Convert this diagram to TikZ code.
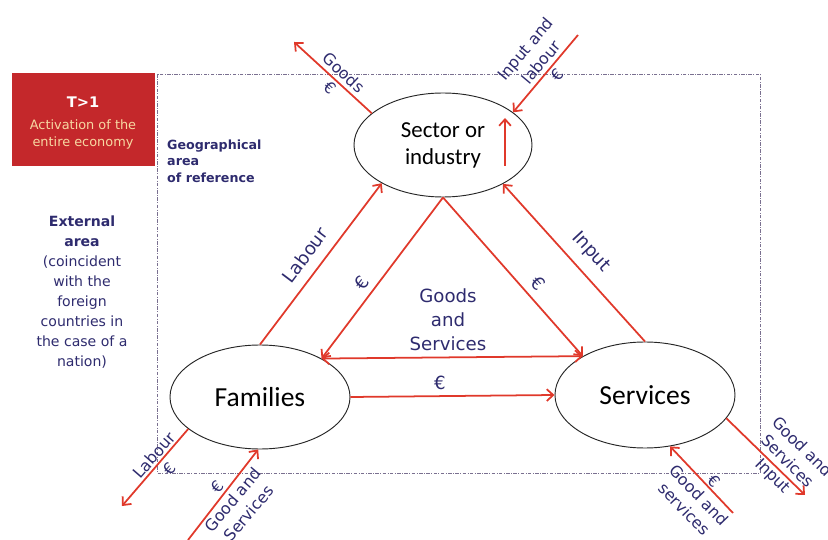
\documentclass[tikz,border=0pt]{standalone}
\usepackage{fontspec}
\setmainfont{Carlito}
\newfontfamily\labfont{DejaVu Sans}
\usetikzlibrary{arrows.meta,shapes.geometric}
\definecolor{navy}{HTML}{2E2B6E}
\definecolor{arrred}{HTML}{E0392B}
\definecolor{boxred}{HTML}{C4282B}
\definecolor{cream}{HTML}{F7D8A2}
\definecolor{framecol}{HTML}{7A7090}
\begin{document}
\begin{tikzpicture}[x=0.03cm,y=-0.03cm,
 tip/.tip={Straight Barb[length=5.5pt,width=10pt]},
 flow/.style={draw=arrred,line width=1.5pt,-tip},
 flowboth/.style={draw=arrred,line width=1.5pt,tip-tip},
 agent/.style={ellipse,draw=black!85,line width=0.8pt,inner sep=0pt,align=center},
 lbl/.style={text=navy,font=\labfont\fontsize{13.6}{17.5}\selectfont,inner sep=0pt,align=center},
 tlbl/.style={text=navy,font=\labfont\fontsize{15.5}{18}\selectfont,inner sep=0pt},
 frameline/.style={draw=framecol,line width=0.6pt,dash pattern=on 3pt off 1.2pt on 0.8pt off 1.2pt},
 redbox/.style={fill=boxred,minimum width=4.29cm,minimum height=2.79cm,inner sep=0pt},
]
\useasboundingbox (0,0) rectangle (828,540);
\draw[frameline] (157,74) rectangle (760,473);

% red box
\node[redbox] (tbox) at (83.5,119.5) {};
\node[font=\labfont\bfseries\fontsize{12.5}{15}\selectfont,text=white,inner sep=0pt] (t1) at (83,102) {T>1};
\node[font=\labfont\fontsize{11}{13}\selectfont,text=cream,inner sep=0pt] (t2) at (83,125) {Activation of the};
\node[font=\labfont\fontsize{11}{13}\selectfont,text=cream,inner sep=0pt] (t3) at (83,143) {entire economy};

% area labels
\node[text=navy,font=\labfont\bfseries\fontsize{10.8}{14}\selectfont,align=left,anchor=west,inner sep=0pt] (geo) at (167,161) {Geographical\\area\\of reference};
\node[text=navy,font=\labfont\fontsize{12}{17}\selectfont,align=center,inner sep=0pt] (ext) at (82,292)
 {\textbf{External}\\\textbf{area}\\(coincident\\with the\\foreign\\countries in\\the case of a\\nation)};

% agents
\node[agent,minimum width=5.34cm,minimum height=3.12cm,font=\fontsize{19.5}{23}\selectfont] (sec) at (443,145) {Sector or\\industry};
\node[agent,minimum width=5.4cm,minimum height=3.12cm,font=\fontsize{23.5}{27}\selectfont] (fam) at (260,397) {Families};
\node[agent,minimum width=5.4cm,minimum height=3.18cm,font=\fontsize{23.5}{27}\selectfont] (srv) at (645,395) {Services};

% inner arrow of sector
\coordinate (up1) at (505,166);
\coordinate (up2) at (505,118);
\draw[flow] (up1) -- (up2);

% triangle flows
\draw[flow] (fam.north) -- (sec.212);
\draw[flow] (srv.north) -- (sec.327);
\draw[flow] (sec.south) -- (fam.32);
\draw[flow] (sec.south) -- (srv.148);
\draw[flowboth] (fam.32) -- (srv.148);
\draw[flow] (fam.east) -- (srv.west);

\node[tlbl,rotate=53] (l1) at (305,255) {Labour};
\node[tlbl,rotate=-47] (l2) at (591,252) {Input};
\node[tlbl,rotate=53] (e1) at (362,283) {€};
\node[tlbl,rotate=-48] (e2) at (538,283) {€};
\node[tlbl,align=center,font=\labfont\fontsize{15.5}{20.5}\selectfont] (gas) at (448,320) {Goods\\and\\Services};
\node[tlbl] (e3) at (440,383) {€};

% external flows
\coordinate (o1) at (294,42);
\coordinate (o2) at (578,35);
\coordinate (o3) at (122,506);
\coordinate (o4) at (188,540);
\coordinate (o5) at (805,495);
\coordinate (o6) at (733,513);
\draw[flow] (sec.156) -- (o1);
\draw[flow] (o2) -- (sec.25);
\draw[flow] (fam.204) -- (o3);
\draw[flow] (o4) -- (fam.268);
\draw[flow] (srv.344) -- (o5);
\draw[flow] (o6) -- (srv.296);

\node[lbl,rotate=-43] (x1) at (337,80) {Goods\\€};
\node[lbl,rotate=50] (x2) at (541,62) {Input and\\labour\\€};
\node[lbl,rotate=49] (x3) at (162,462) {Labour\\€};
\node[lbl,rotate=50] (x4) at (233,500) {€\\Good and\\Services};
\node[lbl,rotate=-45] (x5) at (787,462) {Good and\\Services\\Input};
\node[lbl,rotate=-46] (x6) at (699,495) {€\\Good and\\services};
\end{tikzpicture}
\end{document}
